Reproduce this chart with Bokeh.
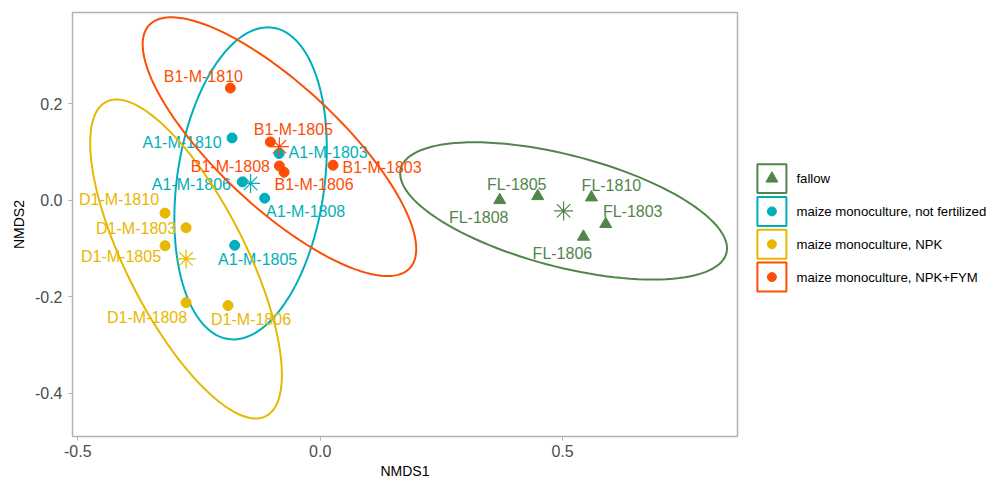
import numpy as np
from bokeh.plotting import figure
from bokeh.layouts import row
from bokeh.models import (ColumnDataSource, FixedTicker, PrintfTickFormatter,
                          Range1d)
from bokeh.core.properties import value
from bokeh.embed import file_html
from bokeh.resources import INLINE

# ---------------- data ----------------
groups = ["fallow", "maize monoculture, not fertilized",
          "maize monoculture, NPK", "maize monoculture, NPK+FYM"]
group_colors = ["#52854C", "#00AFBB", "#E7B800", "#FC4E07"]
group_markers = ["triangle", "circle", "circle", "circle"]

fl_names = ["FL-1803", "FL-1805", "FL-1806", "FL-1808", "FL-1810"]
fl_nmds1 = [0.5891, 0.4488, 0.5431, 0.3704, 0.5596]
fl_nmds2 = [-0.0496, 0.0083, -0.0759, 0.0000, 0.0056]

a1_names = ["A1-M-1803", "A1-M-1805", "A1-M-1806", "A1-M-1808", "A1-M-1810"]
a1_nmds1 = [-0.0848, -0.1764, -0.1605, -0.1145, -0.1818]
a1_nmds2 = [0.0966, -0.0937, 0.0378, 0.0041, 0.1289]

d1_names = ["D1-M-1803", "D1-M-1805", "D1-M-1806", "D1-M-1808", "D1-M-1810"]
d1_nmds1 = [-0.2767, -0.3201, -0.1901, -0.2767, -0.3201]
d1_nmds2 = [-0.0573, -0.0945, -0.2186, -0.2124, -0.0269]

b1_names = ["B1-M-1803", "B1-M-1805", "B1-M-1806", "B1-M-1808", "B1-M-1810"]
b1_nmds1 = [0.0266, -0.1028, -0.0745, -0.0842, -0.1853]
b1_nmds2 = [0.0724, 0.1206, 0.0579, 0.0709, 0.2323]

x_ticks = [-0.5, 0.0, 0.5]
y_ticks = [-0.4, -0.2, 0.0, 0.2]

# label offsets (screen px, as placed by the label repeller)
fl_lab_dx = [27, -21, -21, -21, 20]
fl_lab_dy = [-13, -12, 17, 17, -12]
a1_lab_dx = [49, 23, -51, 41, -50]
a1_lab_dy = [-1, 14, 3, 13, 5]
d1_lab_dx = [-50, -44, 23, -39, -46]
d1_lab_dy = [1, 11, 14, 15, -14]
b1_lab_dx = [49, 23, 30, -49, -27]
b1_lab_dy = [2, -12, 12, 1, -12]

group_data = [
    (fl_names, fl_nmds1, fl_nmds2, fl_lab_dx, fl_lab_dy),
    (a1_names, a1_nmds1, a1_nmds2, a1_lab_dx, a1_lab_dy),
    (d1_names, d1_nmds1, d1_nmds2, d1_lab_dx, d1_lab_dy),
    (b1_names, b1_nmds1, b1_nmds2, b1_lab_dx, b1_lab_dy),
]

F_CRIT = 6.944272  # qf(0.95, 2, 4) for the 95% normal ellipse (n = 5)

FONT = "Liberation Sans"

FRAME_TOP, FRAME_BOTTOM = 12, 437

p = figure(width=739, height=481, output_backend="svg", toolbar_location=None,
           x_range=Range1d(-0.511, 0.861), y_range=Range1d(-0.490, 0.389),
           min_border_left=72, min_border_right=2, min_border_top=FRAME_TOP,
           min_border_bottom=481 - FRAME_BOTTOM)
p.background_fill_color = "white"
p.border_fill_color = "white"
p.outline_line_color = "#b3b3b3"
p.outline_line_width = 1.5
p.xgrid.visible = False
p.ygrid.visible = False

for gi, (names, xs, ys, ldx, ldy) in enumerate(group_data):
    col = group_colors[gi]
    x = np.array(xs)
    y = np.array(ys)
    cx, cy = x.mean(), y.mean()
    cov = np.cov(np.vstack([x, y]))
    chol = np.linalg.cholesky(cov).T
    r = np.sqrt(2 * F_CRIT)
    t = np.linspace(0, 2 * np.pi, 121)
    unit = np.column_stack([np.cos(t), np.sin(t)])
    ell = unit @ chol * r
    p.patch(cx + ell[:, 0], cy + ell[:, 1], fill_alpha=0,
            line_color=col, line_width=2)

    src = ColumnDataSource(dict(x=xs, y=ys, name=names, dx=ldx, dy=ldy))
    p.scatter("x", "y", source=src, marker=group_markers[gi],
              size=12 if group_markers[gi] == "triangle" else 10,
              fill_color=col, line_color=col)
    p.scatter([cx], [cy], marker="asterisk", size=19, line_color=col,
              line_width=1.2)
    p.text("x", "y", text="name", source=src, x_offset="dx", y_offset="dy",
           text_align="center", text_baseline="middle", text_color=col,
           text_font_size="16px", text_font=value(FONT))

for ax in (p.xaxis, p.yaxis):
    ax.axis_line_color = None
    ax.major_tick_line_color = "#b3b3b3"
    ax.major_tick_out = 4
    ax.major_tick_in = 0
    ax.minor_tick_line_color = None
    ax.major_label_text_color = "#4d4d4d"
    ax.major_label_text_font_size = "16px"
    ax.major_label_text_font = FONT
    ax.axis_label_text_font = FONT
    ax.axis_label_text_font_style = "normal"
    ax.axis_label_text_font_size = "14px"
    ax.axis_label_text_color = "black"
    ax.formatter = PrintfTickFormatter(format="%.1f")

p.xaxis.ticker = FixedTicker(ticks=x_ticks)
p.yaxis.ticker = FixedTicker(ticks=y_ticks)
p.xaxis.axis_label = "NMDS1"
p.yaxis.axis_label = "NMDS2"
p.xaxis.major_label_standoff = 4
p.yaxis.major_label_standoff = 6
p.xaxis.axis_label_standoff = 3
p.yaxis.axis_label_standoff = 5

# ---------------- legend panel (screen-like pixel coordinates) ----------------
LW, LH = 248, 481
lp = figure(width=LW, height=LH, output_backend="svg", toolbar_location=None,
            x_range=Range1d(0, LW), y_range=Range1d(FRAME_BOTTOM, FRAME_TOP),
            x_axis_type=None, y_axis_type=None,
            min_border=0, min_border_left=0, min_border_right=0,
            min_border_top=FRAME_TOP, min_border_bottom=481 - FRAME_BOTTOM)
lp.outline_line_color = None
lp.xgrid.visible = False
lp.ygrid.visible = False
lp.background_fill_color = "white"
lp.border_fill_color = "white"

key_x = 32.4
key_y0 = 178.5
key_step = 32.9
key_size = 29
key_ys = [key_y0 + i * key_step for i in range(len(groups))]
leg_src = ColumnDataSource(dict(
    x=[key_x] * len(groups), y=key_ys, col=group_colors,
    marker=group_markers, msize=[12 if m == "triangle" else 9 for m in group_markers],
    lab=groups, lx=[key_x + 24.5] * len(groups)))
lp.rect("x", "y", width=key_size, height=key_size, source=leg_src,
        fill_color="white", line_color="col", line_width=2)
lp.scatter("x", "y", source=leg_src, marker="marker", size="msize",
           fill_color="col", line_color="col")
lp.text("lx", "y", text="lab", source=leg_src, text_align="left",
        text_baseline="middle", text_color="black", text_font_size="13.2px",
        text_font=value(FONT))

layout = row(p, lp, spacing=0)
open("out.html", "w").write(file_html(layout, INLINE))
